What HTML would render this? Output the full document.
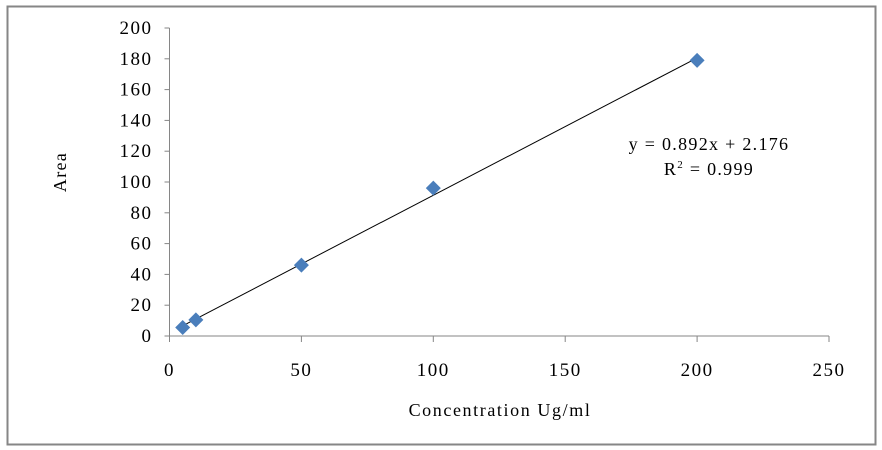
<!DOCTYPE html>
<html><head><meta charset="utf-8"><style>
html,body{margin:0;padding:0;background:#fff;}
svg{display:block;font-family:"Liberation Serif",serif;}
</style></head><body>
<svg id="chart" width="882" height="450">
<rect x="7.5" y="6.5" width="868" height="438" fill="#fff" stroke="#868686" stroke-width="2"/>
<g id="axes"></g>
<g id="marks"></g>
<text x="709" y="150" font-size="18" letter-spacing="1.3" text-anchor="middle">y = 0.892x + 2.176</text>
<text x="709" y="175" font-size="18" letter-spacing="1.3" text-anchor="middle">R<tspan font-size="11" dy="-7">2</tspan><tspan dy="7"> = 0.999</tspan></text>
<text x="500" y="416" font-size="18" letter-spacing="1.6" text-anchor="middle">Concentration Ug/ml</text>
<text transform="translate(66,172) rotate(-90)" font-size="18" letter-spacing="1.3" text-anchor="middle">Area</text>
</svg>
<script>
const xValues=[5,10,50,100,200];
const yValues=[5.5,10.5,46,96,179];
const xTicks=[0,50,100,150,200,250];
const yTicks=[0,20,40,60,80,100,120,140,160,180,200];
const slope=0.892, intercept=2.176;
const X0=169.5,X1=829,Y0=336,Y1=28;
function sx(v){return X0+(v/250)*(X1-X0);}
function sy(v){return Y0-(v/200)*(Y0-Y1);}
const NS="http://www.w3.org/2000/svg";
const axes=document.getElementById('axes'),marks=document.getElementById('marks');
function mk(tag,attrs,parent){const e=document.createElementNS(NS,tag);for(const k in attrs)e.setAttribute(k,attrs[k]);parent.appendChild(e);return e;}
let l=mk('line',{x1:X0,y1:Y1,x2:X0,y2:Y0,stroke:'#868686'},axes);


l=mk('line',{x1:X0,y1:Y0,x2:X1,y2:Y0,stroke:'#868686'},axes);


yTicks.forEach(v=>{
 const t=mk('line',{x1:X0-5,x2:X0,y1:sy(v),y2:sy(v),stroke:'#868686'},axes);
 
 
 const tx=mk('text',{x:X0-17,y:sy(v)+6,'font-size':19,'letter-spacing':1.5,'text-anchor':'end'},axes);
 tx.textContent=v;
 
 
});
xTicks.forEach(v=>{
 const t=mk('line',{x1:sx(v),x2:sx(v),y1:Y0,y2:Y0+6,stroke:'#868686'},axes);
 
 
 const tx=mk('text',{x:sx(v),y:Y0+40,'font-size':19,'letter-spacing':1.5,'text-anchor':'middle'},axes);
 tx.textContent=v;
 
 
});
const xmin=Math.min(...xValues),xmax=Math.max(...xValues);
const tl=mk('line',{x1:sx(xmin),y1:sy(slope*xmin+intercept),x2:sx(xmax),y2:sy(slope*xmax+intercept),stroke:'#000','stroke-width':1},marks);


xValues.forEach((v,i)=>{
 const cx=sx(v),cy=sy(yValues[i]),r=7.5;
 const p=mk('polygon',{points:`${cx},${cy-r} ${cx+r},${cy} ${cx},${cy+r} ${cx-r},${cy}`,fill:'#4a7ebb'},marks);
 
 
});
</script>
</body></html>
